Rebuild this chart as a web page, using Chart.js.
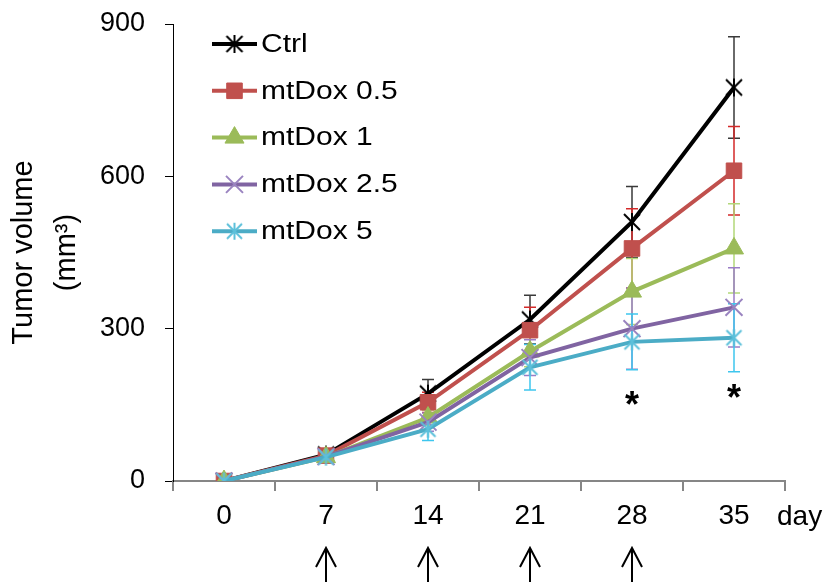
<!DOCTYPE html>
<html>
<head>
<meta charset="utf-8">
<script src="https://cdn.jsdelivr.net/npm/chart.js"></script>
<style>
  body { margin: 0; background: #fff; }
  #wrap { width: 830px; height: 582px; }
</style>
</head>
<body>
<div id="wrap"><canvas id="tumorChart" width="830" height="582"></canvas></div>
<script>
// days after start
const days = ['0', '7', '14', '21', '28', '35'];
const yTicks = [0, 300, 600, 900];

const seriesNames = ['Ctrl', 'mtDox 0.5', 'mtDox 1', 'mtDox 2.5', 'mtDox 5'];

// mean tumor volume (mm3) and error (SD) per series
const ctrlMean = [0, 52, 172, 318, 510, 775];
const ctrlErr = [0, 6, 28, 48, 70, 100];
const dox05Mean = [0, 50, 155, 297, 458, 611];
const dox05Err = [0, 5, 20, 45, 78, 87];
const dox1Mean = [0, 47, 125, 255, 373, 458];
const dox1Err = [0, 5, 15, 30, 65, 88];
const dox25Mean = [0, 48, 116, 243, 300, 342];
const dox25Err = [0, 5, 18, 35, 80, 78];
const dox5Mean = [0, 47, 102, 224, 274, 282];
const dox5Err = [0, 5, 22, 45, 55, 67];

// treatment days (arrows) and significance marks
const treatDays = ['7', '14', '21', '28'];
const sigDays = ['28', '35'];
const sigLevel = [160, 173];

const FONT = "'Liberation Sans', Arial, sans-serif";
Chart.defaults.font.family = FONT;
Chart.defaults.color = '#000';

// excel style star: an X with a vertical bar
function starMarker(color, size, lw) {
    const c = document.createElement('canvas');
    c.width = size;
    c.height = size;
    const g = c.getContext('2d');
    g.strokeStyle = color;
    g.lineWidth = lw;
    const m = lw;
    g.beginPath();
    g.moveTo(m, m);
    g.lineTo(size - m, size - m);
    g.moveTo(size - m, m);
    g.lineTo(m, size - m);
    g.moveTo(size / 2, 1);
    g.lineTo(size / 2, size - 1);
    g.stroke();
    return c;
}

const errorBars = {
    id: 'errorBars',
    beforeDatasetsDraw(chart) {
        const ctx = chart.ctx;
        const yScale = chart.scales.y;
        chart.data.datasets.forEach((ds, i) => {
            const meta = chart.getDatasetMeta(i);
            ctx.save();
            ctx.strokeStyle = ds.errColor;
            ctx.lineWidth = 1.5;
            meta.data.forEach((pt, j) => {
                const e = ds.errors[j];
                if (!e) return;
                const top = yScale.getPixelForValue(ds.data[j] + e);
                const bot = yScale.getPixelForValue(ds.data[j] - e);
                ctx.beginPath();
                ctx.moveTo(pt.x, top);
                ctx.lineTo(pt.x, bot);
                ctx.moveTo(pt.x - 6, top);
                ctx.lineTo(pt.x + 6, top);
                ctx.moveTo(pt.x - 6, bot);
                ctx.lineTo(pt.x + 6, bot);
                ctx.stroke();
            });
            ctx.restore();
        });
    }
};

const lineLegend = {
    id: 'lineLegend',
    afterDraw(chart) {
        const ctx = chart.ctx;
        const x0 = 212, x1 = 257, top = 44, step = 46.8;
        chart.data.datasets.forEach((ds, i) => {
            const y = top + i * step;
            ctx.save();
            ctx.strokeStyle = ds.borderColor;
            ctx.lineWidth = 4;
            ctx.beginPath();
            ctx.moveTo(x0, y);
            ctx.lineTo(x1, y);
            ctx.stroke();
            ctx.strokeStyle = ds.pointBorderColor;
            ctx.fillStyle = ds.pointBackgroundColor;
            ctx.lineWidth = ds.pointBorderWidth;
            if (Chart.helpers && Chart.helpers.drawPoint) {
                Chart.helpers.drawPoint(ctx, {
                    pointStyle: ds.pointStyle,
                    radius: ds.pointRadius,
                    rotation: 0,
                    borderWidth: ds.pointBorderWidth
                }, (x0 + x1) / 2, y);
            }
            ctx.fillStyle = '#000';
            ctx.font = '25px ' + FONT;
            ctx.textBaseline = 'middle';
            ctx.textAlign = 'left';
            ctx.translate(x1 + 4, y + 1);
            ctx.scale(1.2, 1);
            ctx.fillText(ds.label, 0, 0);
            ctx.restore();
        });
    }
};

const extras = {
    id: 'extras',
    afterDraw(chart) {
        const ctx = chart.ctx;
        const xScale = chart.scales.x;
        const yScale = chart.scales.y;
        ctx.save();
        ctx.fillStyle = '#000';
        ctx.textAlign = 'center';
        ctx.textBaseline = 'middle';
        ctx.font = 'bold 36px ' + FONT;
        sigDays.forEach((d, i) => {
            ctx.fillText('*', xScale.getPixelForValue(days.indexOf(d)), yScale.getPixelForValue(sigLevel[i]) + 7);
        });
        ctx.font = '28px ' + FONT;
        ctx.textAlign = 'left';
        ctx.fillText('day', xScale.right - 8, 517);
        ctx.strokeStyle = '#000';
        ctx.lineWidth = 2;
        treatDays.forEach(d => {
            const x = xScale.getPixelForValue(days.indexOf(d));
            ctx.beginPath();
            ctx.moveTo(x, 548);
            ctx.lineTo(x, 590);
            ctx.moveTo(x - 10, 567);
            ctx.lineTo(x, 548);
            ctx.lineTo(x + 10, 567);
            ctx.stroke();
        });
        ctx.restore();
    }
};

function makeSeries(name, mean, err, color, errColor, style, radius, markerColor, order) {
    const filled = style === 'rect' || style === 'triangle';
    return {
        label: name,
        data: mean,
        errors: err,
        errColor: errColor,
        borderColor: color,
        backgroundColor: color,
        borderWidth: 4,
        pointStyle: style,
        pointRadius: radius,
        pointBorderWidth: filled ? 1 : 2,
        pointBorderColor: markerColor,
        pointBackgroundColor: markerColor,
        tension: 0,
        order: order
    };
}

new Chart(document.getElementById('tumorChart').getContext('2d'), {
    type: 'line',
    data: {
        labels: days,
        datasets: [
            makeSeries(seriesNames[0], ctrlMean, ctrlErr, '#000000', '#3a3a3a', starMarker('#000000', 20, 2), 10, '#000000', 5),
            makeSeries(seriesNames[1], dox05Mean, dox05Err, '#c0504d', '#d42a2a', 'rect', 11, '#c0504d', 4),
            makeSeries(seriesNames[2], dox1Mean, dox1Err, '#9bbb59', '#b2d77a', 'triangle', 11, '#9bbb59', 3),
            makeSeries(seriesNames[3], dox25Mean, dox25Err, '#8064a2', '#9a7dc6', 'crossRot', 12, '#9a84c0', 2),
            makeSeries(seriesNames[4], dox5Mean, dox5Err, '#4bacc6', '#3ec6ee', starMarker('#5cc0da', 19, 2), 10, '#5cc0da', 1)
        ]
    },
    options: {
        responsive: false,
        animation: false,
        devicePixelRatio: 1,
        layout: {
            padding: { left: 0, right: 45, top: 24, bottom: 0 }
        },
        plugins: {
            legend: { display: false },
            tooltip: { enabled: false }
        },
        scales: {
            x: {
                offset: true,
                afterFit: function(scale) { scale.height = 101; },
                border: { color: '#868686', width: 2 },
                grid: {
                    offset: true,
                    drawOnChartArea: false,
                    tickLength: 10,
                    color: '#868686',
                    lineWidth: 2
                },
                ticks: {
                    padding: 8,
                    color: '#000',
                    maxRotation: 0,
                    font: { size: 28 }
                }
            },
            y: {
                min: 0,
                max: 900,
                afterBuildTicks: function(scale) {
                    scale.ticks = yTicks.map(v => ({ value: v }));
                },
                afterFit: function(scale) {
                    scale.width = 173;
                    scale.paddingTop = 12;
                    scale.paddingBottom = 12;
                },
                border: { color: '#000', width: 1 },
                grid: {
                    drawOnChartArea: false,
                    tickLength: 8,
                    color: '#000'
                },
                ticks: {
                    padding: 20,
                    color: '#000',
                    font: { size: 27 }
                },
                title: {
                    display: true,
                    text: ['Tumor volume', '(mm³)'],
                    color: '#000',
                    font: { size: 29, lineHeight: 1.5 },
                    padding: { top: 2, bottom: 0 }
                }
            }
        }
    },
    plugins: [errorBars, lineLegend, extras]
});
</script>
</body>
</html>
